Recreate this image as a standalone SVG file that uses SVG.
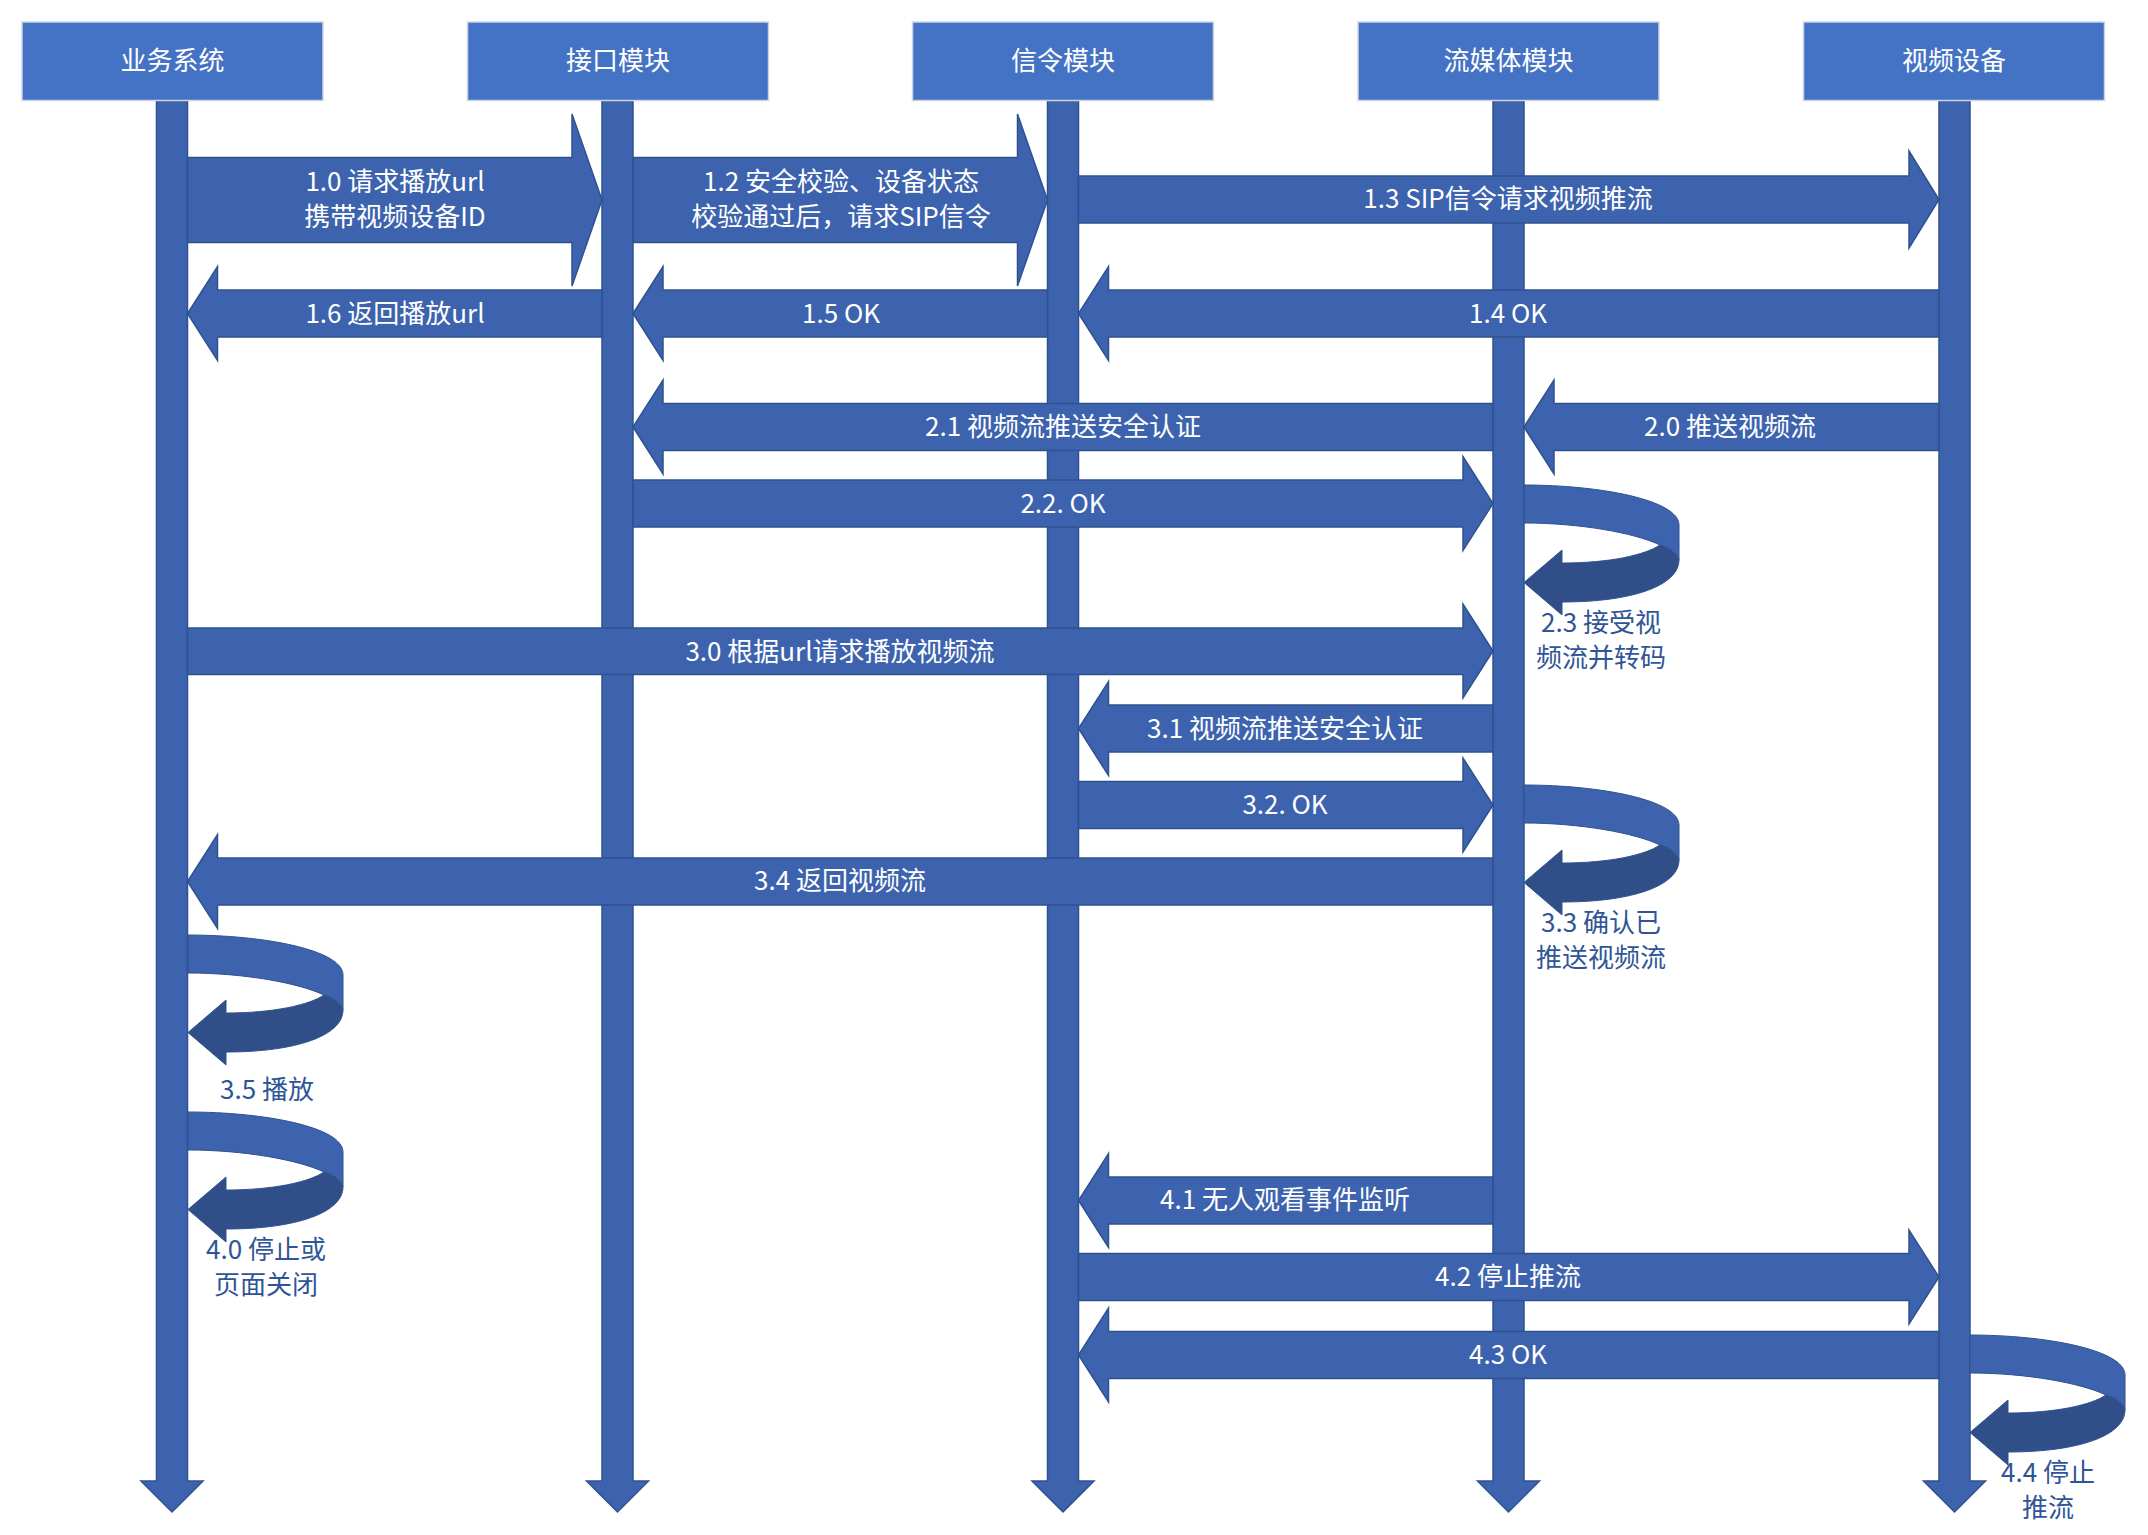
<svg xmlns="http://www.w3.org/2000/svg" xmlns:xlink="http://www.w3.org/1999/xlink" width="2148" height="1535" viewBox="0 0 2148 1535">
<style>
.hdr{fill:#4472C4;stroke:#CDD5E4;stroke-width:1.5}
.life{fill:#3D63AE;stroke:#2F528F;stroke-width:1.5}
.arr{fill:#3D63AE;stroke:#2F528F;stroke-width:1.5;stroke-linejoin:miter}
.lt{fill:#3D63AE;stroke:#2F528F;stroke-width:1}
.dk{fill:#304F88;stroke:#2F528F;stroke-width:1}
text{font-family:"Noto Sans CJK SC","Noto Sans",sans-serif;font-size:26px;text-anchor:middle;dominant-baseline:central}
.w{fill:#FFFFFF}
.b{fill:#2F5597}
</style>
<defs>
<g id="loop">
<path class="lt" d="M0,0 C76,0 155,15 155,40 L155,75 Q151,64 136,60 C111,48 56,38 0,38 Z"/>
<path class="dk" d="M155,75 C155,100 110,117 38,117 L38,130 L0,97.5 L38,65 L38,78 C86,78 121,70 136,60 Q151,64 155,75 Z"/>
</g>
</defs>
<rect width="2148" height="1535" fill="#FFFFFF"/>

<g id="node-yewu">
<path class="life" d="M156.5,100 L187.5,100 L187.5,1481 L203,1481 L172,1512 L141,1481 L156.5,1481 Z"/>
<rect class="hdr" x="22" y="22" width="301" height="78.5"/>
<text class="w" x="172.5" y="58.5">业务系统</text>
</g>
<g id="node-jiekou">
<path class="life" d="M602,100 L633,100 L633,1481 L648.5,1481 L617.5,1512 L586.5,1481 L602,1481 Z"/>
<rect class="hdr" x="467.5" y="22" width="301" height="78.5"/>
<text class="w" x="618" y="58.5">接口模块</text>
</g>
<g id="node-xinling">
<path class="life" d="M1047.5,100 L1078.5,100 L1078.5,1481 L1094,1481 L1063,1512 L1032,1481 L1047.5,1481 Z"/>
<rect class="hdr" x="912.5" y="22" width="301" height="78.5"/>
<text class="w" x="1063" y="58.5">信令模块</text>
</g>
<g id="node-liumeiti">
<path class="life" d="M1493,100 L1524,100 L1524,1481 L1539.5,1481 L1508.5,1512 L1477.5,1481 L1493,1481 Z"/>
<rect class="hdr" x="1358" y="22" width="301" height="78.5"/>
<text class="w" x="1508.5" y="58.5">流媒体模块</text>
</g>
<g id="node-shipin">
<path class="life" d="M1939,100 L1970,100 L1970,1481 L1985.5,1481 L1954.5,1512 L1923.5,1481 L1939,1481 Z"/>
<rect class="hdr" x="1803.5" y="22" width="301" height="78.5"/>
<text class="w" x="1954" y="58.5">视频设备</text>
</g>

<g id="connectors">
<!-- 1.0 -->
<path class="arr" d="M187.5,157.5 L572,157.5 L572,114 L602,200 L572,286 L572,242.5 L187.5,242.5 Z"/>
<text class="w" x="395" y="179.5">1.0 请求播放url</text>
<text class="w" x="395" y="214.5">携带视频设备ID</text>
<!-- 1.2 -->
<path class="arr" d="M633,157.5 L1017.5,157.5 L1017.5,114 L1047.5,200 L1017.5,286 L1017.5,242.5 L633,242.5 Z"/>
<text class="w" x="841" y="179.5">1.2 安全校验、设备状态</text>
<text class="w" x="841" y="214.5">校验通过后，请求SIP信令</text>
<!-- 1.3 -->
<path class="arr" d="M1078.5,176 L1909,176 L1909,151 L1939,199.5 L1909,248 L1909,223 L1078.5,223 Z"/>
<text class="w" x="1508" y="196.5">1.3 SIP信令请求视频推流</text>
<!-- 1.6 -->
<path class="arr" d="M602,290 L217.5,290 L217.5,266.5 L187.5,313.5 L217.5,360.5 L217.5,337 L602,337 Z"/>
<text class="w" x="395" y="311">1.6 返回播放url</text>
<!-- 1.5 -->
<path class="arr" d="M1047.5,290 L663,290 L663,266.5 L633,313.5 L663,360.5 L663,337 L1047.5,337 Z"/>
<text class="w" x="841" y="311">1.5 OK</text>
<!-- 1.4 -->
<path class="arr" d="M1939,290 L1108.5,290 L1108.5,266.5 L1078.5,313.5 L1108.5,360.5 L1108.5,337 L1939,337 Z"/>
<text class="w" x="1508" y="311">1.4 OK</text>
<!-- 2.0 -->
<path class="arr" d="M1939,403.5 L1554,403.5 L1554,380 L1524,427 L1554,474 L1554,450.5 L1939,450.5 Z"/>
<text class="w" x="1730" y="424.5">2.0 推送视频流</text>
<!-- 2.1 -->
<path class="arr" d="M1493,403.5 L663,403.5 L663,380 L633,427 L663,474 L663,450.5 L1493,450.5 Z"/>
<text class="w" x="1063" y="424.5">2.1 视频流推送安全认证</text>
<!-- 2.2 -->
<path class="arr" d="M633,480 L1463,480 L1463,456.5 L1493,503.5 L1463,550.5 L1463,527 L633,527 Z"/>
<text class="w" x="1063" y="501.5">2.2. OK</text>
<!-- 2.3 -->
<use xlink:href="#loop" href="#loop" x="1524" y="485"/>
<text class="b" x="1601" y="620.5">2.3 接受视</text>
<text class="b" x="1601" y="655.5">频流并转码</text>
<!-- 3.0 -->
<path class="arr" d="M187.5,628 L1463,628 L1463,604 L1493,651 L1463,698 L1463,674.5 L187.5,674.5 Z"/>
<text class="w" x="840" y="649.5">3.0 根据url请求播放视频流</text>
<!-- 3.1 -->
<path class="arr" d="M1493,705 L1108.5,705 L1108.5,681.5 L1078.5,728.5 L1108.5,775.5 L1108.5,752 L1493,752 Z"/>
<text class="w" x="1285" y="726.5">3.1 视频流推送安全认证</text>
<!-- 3.2 -->
<path class="arr" d="M1078.5,781.5 L1463,781.5 L1463,758 L1493,805 L1463,852 L1463,828.5 L1078.5,828.5 Z"/>
<text class="w" x="1285" y="802.5">3.2. OK</text>
<!-- 3.3 -->
<use xlink:href="#loop" href="#loop" x="1524" y="785"/>
<text class="b" x="1601" y="920.5">3.3 确认已</text>
<text class="b" x="1601" y="955.5">推送视频流</text>
<!-- 3.4 -->
<path class="arr" d="M1493,858 L217.5,858 L217.5,834.5 L187.5,881.5 L217.5,928.5 L217.5,905 L1493,905 Z"/>
<text class="w" x="840" y="878.5">3.4 返回视频流</text>
<!-- 3.5 -->
<use xlink:href="#loop" href="#loop" x="188" y="935"/>
<text class="b" x="267" y="1087.5">3.5 播放</text>
<!-- 4.0 -->
<use xlink:href="#loop" href="#loop" x="188" y="1112"/>
<text class="b" x="266" y="1247.5">4.0 停止或</text>
<text class="b" x="266" y="1282.5">页面关闭</text>
<!-- 4.1 -->
<path class="arr" d="M1493,1177 L1108.5,1177 L1108.5,1153.5 L1078.5,1200.5 L1108.5,1247.5 L1108.5,1224 L1493,1224 Z"/>
<text class="w" x="1285" y="1197.5">4.1 无人观看事件监听</text>
<!-- 4.2 -->
<path class="arr" d="M1078.5,1253.5 L1909,1253.5 L1909,1230 L1939,1277 L1909,1324 L1909,1300.5 L1078.5,1300.5 Z"/>
<text class="w" x="1508" y="1274.5">4.2 停止推流</text>
<!-- 4.3 -->
<path class="arr" d="M1939,1331.5 L1108.5,1331.5 L1108.5,1308 L1078.5,1355 L1108.5,1402 L1108.5,1378.5 L1939,1378.5 Z"/>
<text class="w" x="1508" y="1352.5">4.3 OK</text>
<!-- 4.4 -->
<use xlink:href="#loop" href="#loop" x="1970" y="1335"/>
<text class="b" x="2048" y="1470.5">4.4 停止</text>
<text class="b" x="2048" y="1505.5">推流</text>
</g>
</svg>
